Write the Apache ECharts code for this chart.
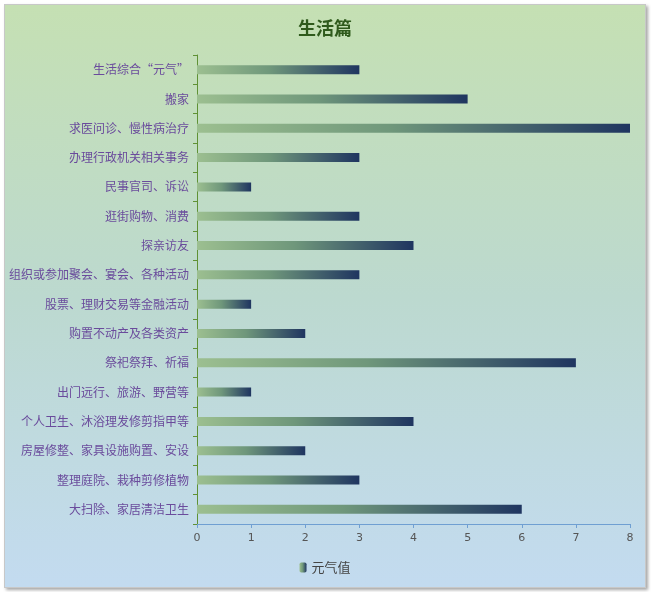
<!DOCTYPE html>
<html>
<head>
<meta charset="utf-8">
<script src="https://cdn.jsdelivr.net/npm/echarts@6/dist/echarts.min.js"></script>
<style>
  html, body { margin: 0; padding: 0; background: #fff; }
  #chart {
    position: absolute; left: 4px; top: 4px; width: 640px; height: 582px;
    border: 1px solid #c8c8c8;
    box-shadow: 2px 2px 3px rgba(0,0,0,0.35);
  }
</style>
</head>
<body>
<div id="chart"></div>
<script>
var categories = [
  '生活综合“元气”', '搬家', '求医问诊、慢性病治疗', '办理行政机关相关事务',
  '民事官司、诉讼', '逛街购物、消费', '探亲访友', '组织或参加聚会、宴会、各种活动',
  '股票、理财交易等金融活动', '购置不动产及各类资产', '祭祀祭拜、祈福', '出门远行、旅游、野营等',
  '个人卫生、沐浴理发修剪指甲等', '房屋修整、家具设施购置、安设', '整理庭院、栽种剪修植物', '大扫除、家居清洁卫生'
];
var values = [3, 5, 8, 3, 1, 3, 4, 3, 1, 2, 7, 1, 4, 2, 3, 6];
var xTicks = [0, 1, 2, 3, 4, 5, 6, 7, 8];

var barGradient = new echarts.graphic.LinearGradient(0, 0, 1, 0, [
  { offset: 0, color: '#9cbf90' },
  { offset: 0.45, color: '#6f977b' },
  { offset: 1, color: '#1f3560' }
]);

var chart = echarts.init(document.getElementById('chart'));
chart.setOption({
  backgroundColor: new echarts.graphic.LinearGradient(0, 0, 0, 1, [
    { offset: 0, color: '#c5e0b3' },
    { offset: 0.5, color: '#bcd9cf' },
    { offset: 1, color: '#c3dbf0' }
  ]),
  animation: false,
  title: {
    text: '生活篇', left: 'center', top: 9,
    textStyle: { color: '#2f5a1c', fontSize: 18, fontWeight: 'bold', fontFamily: 'Noto Sans CJK SC' }
  },
  legend: {
    bottom: 8, left: 'center', itemWidth: 7, itemHeight: 10, itemGap: 4,
    data: ['元气值'],
    textStyle: { color: '#444', fontSize: 13, fontFamily: 'Noto Sans CJK SC' }
  },
  grid: { left: 192, right: 15, top: 50, bottom: 63, containLabel: false },
  xAxis: {
    type: 'value', min: xTicks[0], max: xTicks[xTicks.length - 1], interval: 1,
    axisLine: { show: true, lineStyle: { color: '#6f9fd2', width: 1 } },
    axisTick: { show: true, length: 4, lineStyle: { color: '#6f9fd2' } },
    axisLabel: { color: '#555', fontSize: 11, margin: 9, fontFamily: 'DejaVu Sans' },
    splitLine: { show: false }
  },
  yAxis: {
    type: 'category', inverse: true, data: categories,
    axisLine: { show: true, lineStyle: { color: '#5f9134', width: 1 } },
    axisTick: { show: true, length: 4, lineStyle: { color: '#5f9134' } },
    axisLabel: { color: '#6a4b9c', fontSize: 12, margin: 8, fontFamily: 'Noto Sans CJK SC' }
  },
  series: [{
    name: '元气值', type: 'bar', data: values, barWidth: 9,
    itemStyle: { color: barGradient }
  }]
});
</script>
</body>
</html>
